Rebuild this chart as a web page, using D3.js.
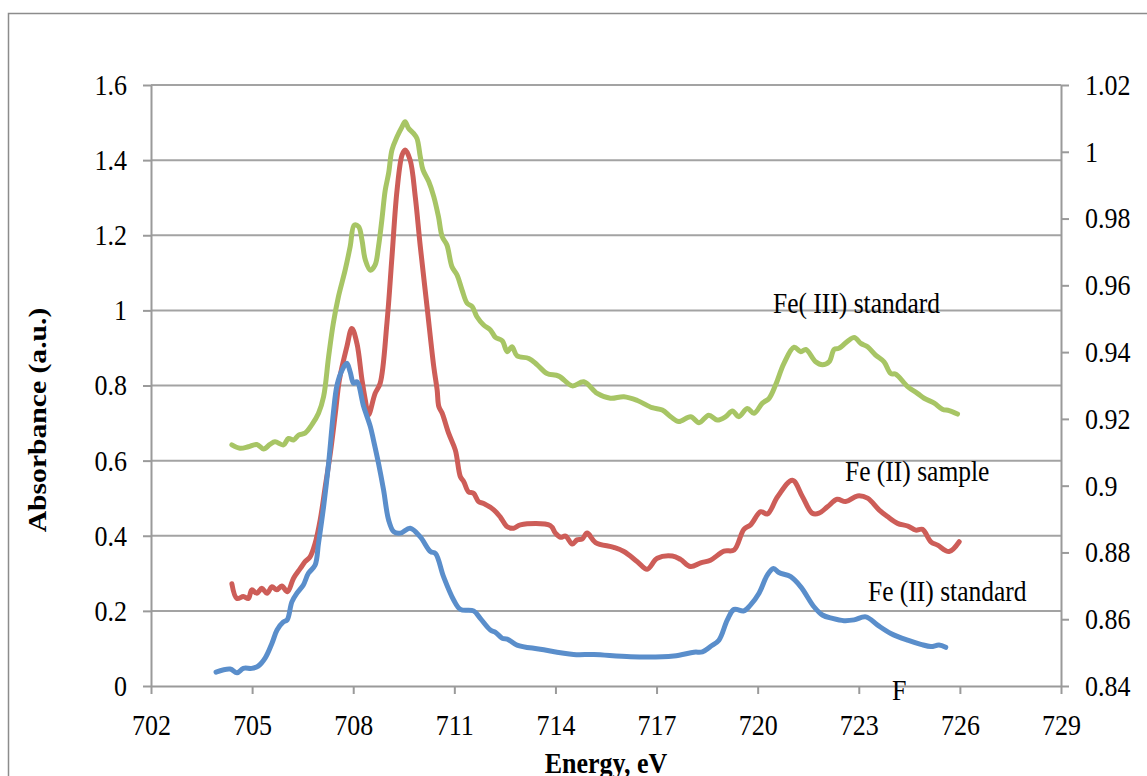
<!DOCTYPE html>
<html>
<head>
<meta charset="utf-8">
<script src="https://cdn.jsdelivr.net/npm/d3@7"></script>
<style>
  html, body { margin: 0; padding: 0; background: #fff; }
  svg { display: block; }
  text { font-family: "Liberation Serif", "Times New Roman", serif; fill: #000; }
  .tall { transform-box: fill-box; transform-origin: center; transform: scaleY(1.12); }
</style>
</head>
<body>
<svg id="chart" width="1147" height="776"></svg>
<script>
// Fe L-edge absorption spectra: energy (eV) / absorbance (a.u.)
const feIIStandardEnergy = [703.93,704.35,704.55,704.74,704.99,705.18,705.39,705.59,705.74,705.92,706.04,706.18,706.33,706.52,706.67,706.87,706.97,707.12,707.27,707.41,707.52,707.67,707.81,707.91,708.01,708.11,708.31,708.51,708.60,708.75,708.90,709.05,709.20,709.40,709.69,709.99,710.29,710.44,710.68,710.98,711.18,711.57,711.77,712.07,712.22,712.42,712.57,712.86,713.55,714.54,715.14,716.23,717.51,718.11,718.36,718.60,718.85,719.10,719.30,719.59,719.79,720.04,720.29,720.47,720.63,720.98,721.28,721.67,721.92,722.22,722.56,722.86,723.21,723.56,723.95,724.45,724.84,725.14,725.38,725.58];
const feIIStandardAbs = [0.037,0.045,0.035,0.047,0.047,0.053,0.075,0.114,0.149,0.170,0.176,0.224,0.247,0.269,0.300,0.322,0.380,0.477,0.593,0.726,0.801,0.841,0.859,0.836,0.806,0.810,0.744,0.690,0.655,0.593,0.522,0.442,0.411,0.407,0.420,0.397,0.358,0.353,0.291,0.229,0.204,0.200,0.180,0.149,0.143,0.127,0.125,0.109,0.098,0.084,0.084,0.078,0.080,0.090,0.091,0.105,0.122,0.176,0.204,0.200,0.216,0.247,0.296,0.313,0.302,0.291,0.264,0.211,0.189,0.180,0.174,0.176,0.184,0.162,0.140,0.122,0.111,0.105,0.109,0.103];

const feIISampleEnergy = [704.40,704.55,704.74,704.89,704.99,705.14,705.29,705.44,705.59,705.73,705.88,706.05,706.23,706.43,706.57,706.72,706.87,707.02,707.17,707.32,707.47,707.59,707.81,707.96,708.11,708.26,708.36,708.45,708.65,708.80,709.00,709.15,709.30,709.45,709.54,709.69,709.84,709.99,710.19,710.39,710.49,710.54,710.64,710.83,711.03,711.18,711.28,711.42,711.57,711.72,711.87,712.17,712.37,712.57,712.76,712.96,713.85,714.00,714.15,714.30,714.50,714.64,714.79,714.94,715.19,715.73,716.03,716.43,716.72,717.02,717.47,717.71,718.01,718.31,718.60,719.00,719.30,719.59,719.79,720.09,720.29,720.59,721.03,721.33,721.62,721.82,722.07,722.36,722.61,722.96,723.26,723.60,723.85,724.15,724.45,724.69,724.89,725.14,725.34,725.68,725.98];
const feIISampleAbs = [0.272,0.233,0.238,0.233,0.256,0.247,0.260,0.247,0.264,0.256,0.266,0.251,0.287,0.313,0.331,0.344,0.380,0.442,0.531,0.619,0.726,0.815,0.903,0.952,0.912,0.815,0.761,0.721,0.779,0.806,0.966,1.143,1.320,1.414,1.427,1.400,1.303,1.170,1.010,0.850,0.788,0.744,0.726,0.673,0.628,0.557,0.544,0.517,0.513,0.491,0.486,0.469,0.449,0.424,0.420,0.429,0.427,0.407,0.396,0.399,0.378,0.389,0.391,0.407,0.382,0.369,0.358,0.331,0.311,0.340,0.346,0.337,0.318,0.328,0.335,0.359,0.362,0.417,0.429,0.464,0.458,0.504,0.548,0.504,0.460,0.460,0.477,0.497,0.491,0.506,0.500,0.469,0.451,0.433,0.426,0.415,0.417,0.384,0.375,0.358,0.384];

const feIIIStandardEnergy = [704.40,704.64,704.89,705.14,705.34,705.53,705.68,705.93,706.08,706.23,706.38,706.57,706.77,706.97,707.12,707.27,707.41,707.56,707.76,707.91,708.03,708.16,708.26,708.36,708.51,708.65,708.75,708.85,708.95,709.05,709.15,709.30,709.45,709.54,709.64,709.79,709.89,709.99,710.07,710.24,710.39,710.53,710.64,710.78,710.93,711.08,711.23,711.38,711.53,711.67,711.87,712.07,712.22,712.42,712.57,712.71,712.86,713.21,713.46,713.75,714.10,714.50,714.84,715.24,715.63,716.03,716.43,716.87,717.17,717.42,717.66,718.01,718.26,718.55,718.80,719.05,719.25,719.44,719.69,719.89,720.14,720.34,720.53,720.78,721.08,721.28,721.43,721.72,721.92,722.12,722.27,722.41,722.86,723.06,723.26,723.50,723.75,723.95,724.10,724.45,724.74,724.94,725.24,725.48,725.68,725.93];
const feIIIStandardAbs = [0.642,0.633,0.637,0.643,0.631,0.643,0.650,0.642,0.659,0.655,0.668,0.673,0.695,0.726,0.770,0.877,0.966,1.036,1.107,1.170,1.227,1.223,1.187,1.134,1.107,1.121,1.170,1.241,1.320,1.365,1.427,1.462,1.489,1.502,1.485,1.471,1.458,1.409,1.374,1.343,1.303,1.249,1.196,1.174,1.116,1.094,1.054,1.019,1.010,0.983,0.961,0.948,0.928,0.919,0.890,0.903,0.879,0.872,0.855,0.832,0.825,0.799,0.810,0.779,0.766,0.770,0.760,0.741,0.735,0.717,0.704,0.717,0.701,0.721,0.708,0.717,0.732,0.717,0.739,0.726,0.753,0.766,0.801,0.859,0.902,0.890,0.896,0.863,0.855,0.863,0.896,0.899,0.928,0.912,0.903,0.881,0.863,0.832,0.830,0.797,0.779,0.766,0.753,0.737,0.733,0.724];

// Axis tick values
const energyTicks = [702, 705, 708, 711, 714, 717, 720, 723, 726, 729];
const absTicks = [0, 0.2, 0.4, 0.6, 0.8, 1, 1.2, 1.4, 1.6];
const rightTicks = [0.84, 0.86, 0.88, 0.9, 0.92, 0.94, 0.96, 0.98, 1, 1.02];

// Series definitions and their in-plot labels
const seriesNames = ["Fe (II) standard", "Fe (II) sample", "Fe( III) standard"];
const seriesColors = ["#5a8ecb", "#cd5d58", "#a7c565"];

const svg = d3.select("#chart");
const W = 1147, H = 776;
const plot = { left: 151, right: 1061, top: 85, bottom: 686 };

svg.append("rect").attr("width", W).attr("height", H).attr("fill", "#fff");

// Outer chart frame
svg.append("rect")
  .attr("x", 8.5).attr("y", 13.5)
  .attr("width", 1300).attr("height", 1000)
  .attr("fill", "none").attr("stroke", "#8c8c8c").attr("stroke-width", 1.5);

const x = d3.scaleLinear().domain([702, 729]).range([plot.left, plot.right]);
const y = d3.scaleLinear().domain([0, 1.6]).range([plot.bottom, plot.top]);
const y2 = d3.scaleLinear().domain([0.84, 1.02]).range([plot.bottom, plot.top]);

const fmt = d => String(+d.toFixed(2));
const axisColor = "#9a9a9a";
const tickFont = 26;

// Horizontal grid lines
svg.append("g")
  .selectAll("line")
  .data(absTicks.slice(1))
  .join("line")
  .attr("x1", plot.left).attr("x2", plot.right)
  .attr("y1", d => y(d)).attr("y2", d => y(d))
  .attr("stroke", "#a3a3a3").attr("stroke-width", 2);

function styleAxis(g) {
  g.select(".domain").attr("stroke", axisColor).attr("stroke-width", 2);
  g.selectAll(".tick line").attr("stroke", axisColor).attr("stroke-width", 2);
  g.selectAll(".tick text")
    .attr("class", "tall")
    .attr("font-family", "Liberation Serif, Times New Roman, serif")
    .attr("font-size", tickFont).attr("fill", "#000");
}

// Left axis
svg.append("g")
  .attr("transform", `translate(${plot.left},0)`)
  .call(d3.axisLeft(y).tickValues(absTicks).tickFormat(fmt).tickSizeInner(8).tickSizeOuter(0).tickPadding(16))
  .call(styleAxis);

// Right axis
svg.append("g")
  .attr("transform", `translate(${plot.right},0)`)
  .call(d3.axisRight(y2).tickValues(rightTicks).tickFormat(fmt).tickSizeInner(8).tickSizeOuter(0).tickPadding(16))
  .call(styleAxis);

// Bottom axis
svg.append("g")
  .attr("transform", `translate(0,${plot.bottom})`)
  .call(d3.axisBottom(x).tickValues(energyTicks).tickFormat(d3.format("d")).tickSizeInner(8).tickSizeOuter(0).tickPadding(21))
  .call(styleAxis);

// Spectra
const series = [
  { energy: feIIStandardEnergy, abs: feIIStandardAbs },
  { energy: feIISampleEnergy, abs: feIISampleAbs },
  { energy: feIIIStandardEnergy, abs: feIIIStandardAbs }
];

const line = d3.line()
  .x(d => x(d[0]))
  .y(d => y(d[1]))
  .curve(d3.curveCatmullRom.alpha(0.5));

// draw green first, then red, then blue on top
[2, 1, 0].forEach(i => {
  const s = series[i];
  svg.append("path")
    .datum(s.energy.map((e, k) => [e, s.abs[k]]))
    .attr("d", line)
    .attr("fill", "none")
    .attr("stroke", seriesColors[i])
    .attr("stroke-width", 5)
    .attr("stroke-linejoin", "round")
    .attr("stroke-linecap", "round");
});

// In-plot series labels
const labelPos = [
  { x: 868, y: 600 },
  { x: 845, y: 480 },
  { x: 773, y: 312 }
];
seriesNames.forEach((name, i) => {
  svg.append("text")
    .attr("class", "tall")
    .attr("x", labelPos[i].x).attr("y", labelPos[i].y)
    .attr("font-size", 25.5)
    .text(name);
});

svg.append("text")
  .attr("class", "tall")
  .attr("x", 892).attr("y", 699)
  .attr("font-size", 26)
  .text("F");

// Axis titles
svg.append("text")
  .attr("class", "tall")
  .attr("x", (plot.left + plot.right) / 2).attr("y", 772)
  .attr("text-anchor", "middle")
  .attr("font-size", 26).attr("font-weight", "bold")
  .text("Energy, eV");

svg.append("text")
  .attr("transform", "translate(46,420) rotate(-90) scale(1.14,1)")
  .attr("text-anchor", "middle")
  .attr("font-size", 26).attr("font-weight", "bold")
  .text("Absorbance (a.u.)");
</script>
</body>
</html>
